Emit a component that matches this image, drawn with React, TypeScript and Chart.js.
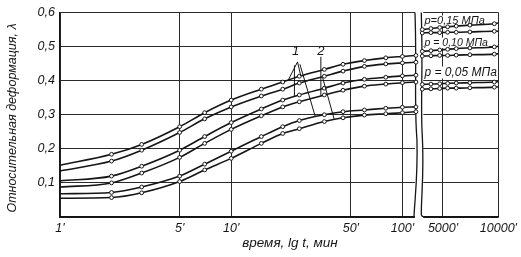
import React, { useEffect, useRef } from 'react';
import { Chart, registerables } from 'chart.js';

Chart.register(...registerables);

// ---- data (time in minutes, relative deformation λ) ----
const LEFT_T = [1, 2, 3, 5, 7, 10, 15, 20, 25, 35, 45, 60, 80, 100, 120];
const RIGHT_T = [3860, 4300, 4800, 5300, 5900, 7000, 9500, 10000];

// p = 0,15 MPa
const P015_S1_LEFT = [0.152, 0.184, 0.213, 0.265, 0.306, 0.343, 0.375, 0.396, 0.413, 0.433, 0.448, 0.459, 0.467, 0.471, 0.474];
const P015_S2_LEFT = [0.135, 0.164, 0.196, 0.248, 0.288, 0.323, 0.355, 0.375, 0.393, 0.413, 0.428, 0.442, 0.449, 0.452, 0.454];
const P015_S1_RIGHT = [0.550, 0.553, 0.556, 0.558, 0.560, 0.563, 0.567, 0.569];
const P015_S2_RIGHT = [0.540, 0.541, 0.541, 0.542, 0.542, 0.543, 0.545, 0.545];
// p = 0,10 MPa
const P010_S1_LEFT = [0.106, 0.120, 0.149, 0.196, 0.236, 0.277, 0.317, 0.343, 0.358, 0.378, 0.393, 0.404, 0.410, 0.414, 0.416];
const P010_S2_LEFT = [0.088, 0.100, 0.129, 0.175, 0.216, 0.257, 0.297, 0.323, 0.338, 0.358, 0.372, 0.384, 0.390, 0.394, 0.396];
const P010_S1_RIGHT = [0.486, 0.488, 0.490, 0.492, 0.494, 0.496, 0.499, 0.501];
const P010_S2_RIGHT = [0.472, 0.473, 0.474, 0.474, 0.475, 0.476, 0.478, 0.479];
// p = 0,05 MPa
const P005_S1_LEFT = [0.068, 0.072, 0.088, 0.120, 0.155, 0.193, 0.236, 0.265, 0.283, 0.300, 0.309, 0.314, 0.319, 0.322, 0.323];
const P005_S2_LEFT = [0.055, 0.057, 0.071, 0.104, 0.138, 0.172, 0.216, 0.245, 0.259, 0.280, 0.291, 0.299, 0.303, 0.306, 0.309];
const P005_S1_RIGHT = [0.389, 0.390, 0.391, 0.392, 0.393, 0.394, 0.396, 0.397];
const P005_S2_RIGHT = [0.375, 0.376, 0.377, 0.378, 0.378, 0.379, 0.381, 0.382];

const X_TICK_VALUES = [1, 5, 10, 50, 100, 5000, 10000];
const X_TICK_LABELS = ["1'", "5'", "10'", "50'", "100'", "5000'", "10000'"];
const Y_TICK_VALUES = [0.1, 0.2, 0.3, 0.4, 0.5, 0.6];

const PRESSURE_LABELS = ['p=0,15 МПа', 'p = 0,10 МПа', 'p = 0,05 МПа'];
const PRESSURE_LABEL_V = [0.575, 0.511, 0.424];
const PRESSURE_LABEL_SIZE = [11, 10.5, 12];

const X_TITLE = 'время, lg t, мин';
const Y_TITLE = 'Относительная деформация, λ';

// broken logarithmic time axis
const LEFT_PANEL_END_T = 120;
const RIGHT_PANEL_START_T = 3860;
const RIGHT_ORIGIN = 2.237;
const RIGHT_STRETCH = 1.076;
function pos(t: number): number {
  const l = Math.log10(t);
  return t <= 1000 ? l : RIGHT_ORIGIN + (l - Math.log10(5000)) * RIGHT_STRETCH;
}

const INK = '#151515';
const FONT = "'Liberation Sans', Arial, sans-serif";

function makeSet(ts: number[], vs: number[], hideFirst: boolean, hideLast: boolean) {
  return {
    data: ts.map((t, i) => ({ x: pos(t), y: vs[i] })),
    borderColor: INK,
    borderWidth: 1.6,
    pointRadius: ts.map((_, i) => ((hideFirst && i === 0) || (hideLast && i === ts.length - 1) ? 0 : 1.9)),
    pointBackgroundColor: '#fff',
    pointBorderColor: INK,
    pointBorderWidth: 1,
    cubicInterpolationMode: 'monotone' as const,
    fill: false,
  };
}

const overlay = {
  id: 'overlay',
  beforeDatasetsDraw(chart: any) {
    const { ctx, chartArea: a, scales } = chart;
    const x = scales.x;
    const y = scales.y;
    const xl = x.getPixelForValue(pos(LEFT_PANEL_END_T));
    const xr = x.getPixelForValue(pos(RIGHT_PANEL_START_T));
    ctx.save();
    ctx.fillStyle = '#fff';
    ctx.fillRect(xl - 1, a.top - 2, xr - xl + 2, a.bottom - a.top + 5);
    ctx.strokeStyle = INK;
    ctx.lineWidth = 1.3;
    const h = a.bottom - a.top;
    ctx.beginPath();
    ctx.moveTo(xl - 1, a.top);
    ctx.bezierCurveTo(xl + 1, a.top + h * 0.25, xl - 2, a.top + h * 0.45, xl + 1, a.top + h * 0.62);
    ctx.bezierCurveTo(xl + 2, a.top + h * 0.8, xl - 1, a.top + h * 0.9, xl - 2, a.bottom);
    ctx.lineTo(a.left, a.bottom);
    ctx.stroke();
    ctx.beginPath();
    ctx.moveTo(xr - 1, a.top);
    ctx.bezierCurveTo(xr + 1, a.top + h * 0.3, xr - 2, a.top + h * 0.45, xr, a.top + h * 0.6);
    ctx.bezierCurveTo(xr + 2, a.top + h * 0.78, xr - 1, a.top + h * 0.9, xr - 1, a.bottom - 3);
    ctx.quadraticCurveTo(xr - 1, a.bottom, xr + 3, a.bottom);
    ctx.lineTo(a.right, a.bottom);
    ctx.stroke();

    // pressure labels in right panel (behind the curves, over the grid)
    ctx.textAlign = 'left';
    ctx.textBaseline = 'middle';
    PRESSURE_LABELS.forEach((txt, i) => {
      const size = PRESSURE_LABEL_SIZE[i];
      ctx.font = `italic ${size}px ${FONT}`;
      const qx = x.getPixelForValue(pos(3920));
      const qy = y.getPixelForValue(PRESSURE_LABEL_V[i]);
      const w = ctx.measureText(txt).width;
      ctx.fillStyle = '#fff';
      ctx.fillRect(qx, qy - size * 0.5, w + 2, size);
      ctx.fillStyle = INK;
      ctx.fillText(txt, qx + 1, qy);
    });
    ctx.restore();
  },
  afterDatasetsDraw(chart: any) {
    const { ctx, chartArea: a, scales } = chart;
    const x = scales.x;
    const y = scales.y;
    const P = (t: number, v: number) => [x.getPixelForValue(pos(t)), y.getPixelForValue(v)];
    ctx.save();
    ctx.strokeStyle = INK;
    ctx.fillStyle = INK;
    ctx.lineWidth = 1;

    // curve labels 1 and 2 with leader lines
    const line = (p: number[], q: number[]) => {
      ctx.beginPath();
      ctx.moveTo(p[0], p[1]);
      ctx.lineTo(q[0], q[1]);
      ctx.stroke();
    };
    const fan1 = P(24.4, 0.455);
    line(fan1, P(21.5, 0.401));
    line(fan1, P(25.5, 0.414));
    line(P(23.4, 0.445), P(23.4, 0.353));
    line(P(25.2, 0.448), P(31, 0.294));
    const stem2 = P(33.4, 0.47);
    const knot2 = P(33.4, 0.409);
    line(stem2, knot2);
    line(knot2, P(33.4, 0.354));
    line(P(34.2, 0.409), P(40, 0.286));

    ctx.font = `italic 13px ${FONT}`;
    ctx.textAlign = 'center';
    ctx.textBaseline = 'middle';
    let p = P(23.8, 0.487);
    ctx.fillText('1', p[0], p[1]);
    p = P(33.4, 0.487);
    ctx.fillText('2', p[0], p[1]);

    // axis titles
    ctx.font = `italic 13.5px ${FONT}`;
    ctx.fillText(X_TITLE, 290, a.bottom + 26);
    ctx.font = `italic 12.5px ${FONT}`;
    ctx.translate(13, 118);
    ctx.rotate(-Math.PI / 2);
    ctx.fillText(Y_TITLE, 0, 0);
    ctx.restore();
  },
};

export default function App() {
  const ref = useRef<HTMLCanvasElement | null>(null);
  useEffect(() => {
    if (!ref.current) return;
    const datasets = [
      makeSet(LEFT_T, P015_S1_LEFT, true, false),
      makeSet(LEFT_T, P015_S2_LEFT, true, false),
      makeSet(LEFT_T, P010_S1_LEFT, true, false),
      makeSet(LEFT_T, P010_S2_LEFT, true, false),
      makeSet(LEFT_T, P005_S1_LEFT, true, false),
      makeSet(LEFT_T, P005_S2_LEFT, true, false),
      makeSet(RIGHT_T, P015_S1_RIGHT, false, true),
      makeSet(RIGHT_T, P015_S2_RIGHT, false, true),
      makeSet(RIGHT_T, P010_S1_RIGHT, false, true),
      makeSet(RIGHT_T, P010_S2_RIGHT, false, true),
      makeSet(RIGHT_T, P005_S1_RIGHT, false, true),
      makeSet(RIGHT_T, P005_S2_RIGHT, false, true),
    ];
    const chart = new Chart(ref.current, {
      type: 'line',
      data: { datasets },
      plugins: [overlay],
      options: {
        animation: false,
        responsive: false,
        events: [],
        layout: { padding: { top: 11, right: 18, left: 0, bottom: 0 } },
        plugins: { legend: { display: false }, tooltip: { enabled: false } },
        scales: {
          x: {
            type: 'linear',
            min: pos(1),
            max: pos(10000),
            afterBuildTicks: (s: any) => {
              s.ticks = X_TICK_VALUES.map((t) => ({ value: pos(t) }));
            },
            afterFit: (s: any) => {
              s.height = 40;
            },
            grid: { color: '#2a2a2a', lineWidth: 1, drawTicks: false },
            border: { display: true, color: INK, width: 1.3 },
            ticks: {
              autoSkip: false,
              maxRotation: 0,
              padding: 4,
              color: INK,
              font: { family: FONT, style: 'italic', size: 12.5 },
              callback: (_v: any, i: number) => X_TICK_LABELS[i],
            },
          },
          y: {
            type: 'linear',
            min: 0,
            max: 0.6,
            afterBuildTicks: (s: any) => {
              s.ticks = [0, ...Y_TICK_VALUES].map((v) => ({ value: v }));
            },
            afterFit: (s: any) => {
              s.width = 60;
            },
            grid: { color: '#2a2a2a', lineWidth: 1, drawTicks: false },
            border: { display: true, color: INK, width: 1.3 },
            ticks: {
              padding: 5,
              color: INK,
              font: { family: FONT, style: 'italic', size: 12.5 },
              callback: (v: any) => (v === 0 ? '' : Number(v).toFixed(1).replace('.', ',')),
            },
          },
        },
      },
    });
    return () => chart.destroy();
  }, []);
  return (
    <div style={{ position: 'fixed', left: 0, top: 0, width: 521, height: 257, background: '#fff' }}>
      <canvas ref={ref} width={521} height={257} style={{ width: 521, height: 257, display: 'block' }} />
    </div>
  );
}
